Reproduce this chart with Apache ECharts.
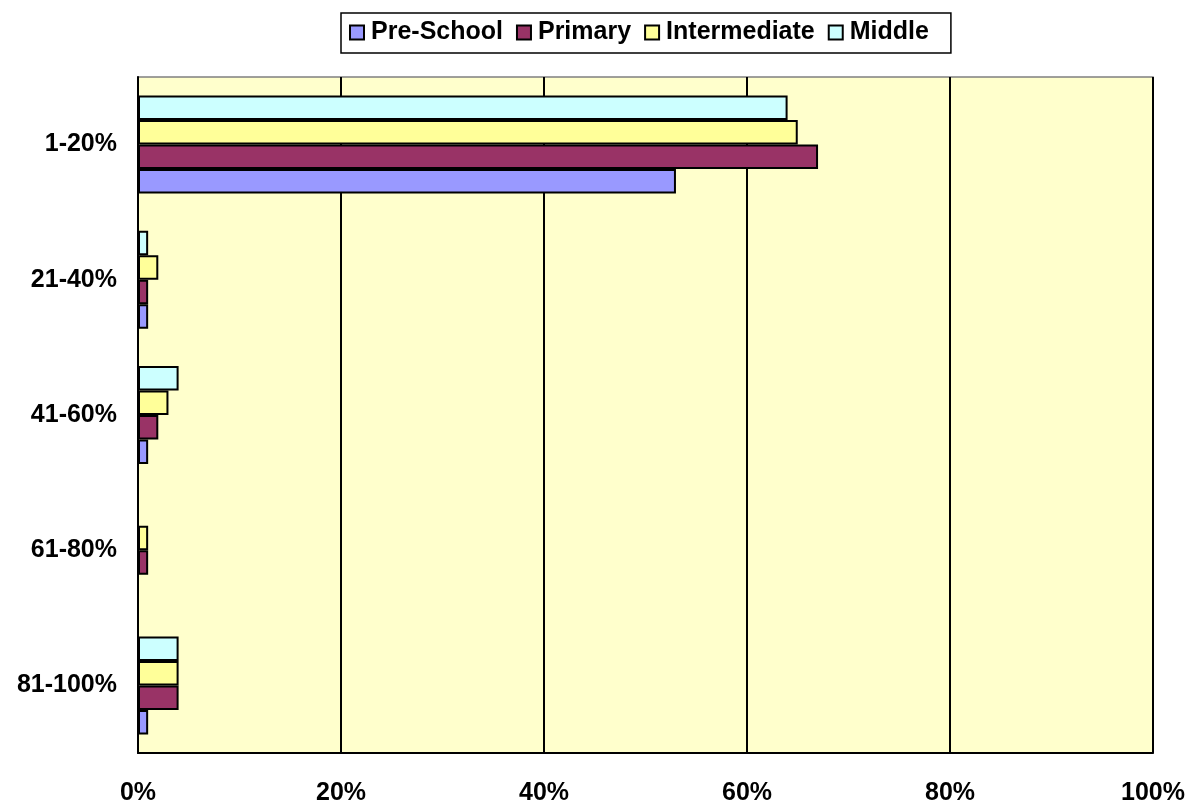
<!DOCTYPE html>
<html><head><meta charset="utf-8">
<script src="https://cdn.jsdelivr.net/npm/echarts@6/dist/echarts.min.js"></script>
<style>html,body{margin:0;padding:0;background:#fff}#c{width:1194px;height:808px}</style>
</head><body><div id="c"></div>
<script>
const categories = ['1-20%', '21-40%', '41-60%', '61-80%', '81-100%'];
const seriesNames = ['Pre-School', 'Primary', 'Intermediate', 'Middle'];
const preSchool = [53, 1, 1, 0, 1];
const primary = [67, 1, 2, 1, 4];
const intermediate = [65, 2, 3, 1, 4];
const middle = [64, 1, 4, 0, 4];
const xTicks = [0, 20, 40, 60, 80, 100];
const colors = ['#9999FF', '#993366', '#FFFF99', '#CCFFFF'];
const values = [preSchool, primary, intermediate, middle];

const font = 'Liberation Sans, Arial, sans-serif';
const chart = echarts.init(document.getElementById('c'));
// draw order: Middle on top of each band, Pre-School at bottom
const order = [3, 2, 1, 0];
chart.setOption({
  animation: false,
  backgroundColor: '#fff',
  legend: {
    data: seriesNames,
    top: 13, left: 341,
    padding: [7, 22, 8, 8],
    borderColor: '#000', borderWidth: 1.5,
    itemWidth: 14, itemHeight: 14, itemGap: 13,
    icon: 'rect',
    textStyle: { fontFamily: font, fontWeight: 'bold', fontSize: 25, color: '#000', padding: [0,0,0,2] },
    itemStyle: { borderColor: '#000', borderWidth: 2 }
  },
  grid: { left: 138, right: 41, top: 77, bottom: 55, containLabel: false,
    show: true, backgroundColor: '#FFFFCC', borderColor: '#808080', borderWidth: 1.5 },
  xAxis: {
    type: 'value', min: 0, max: 100, interval: 20,
    axisLine: { show: true, lineStyle: { color: '#000', width: 2 } },
    axisTick: { show: false },
    splitLine: { show: true, lineStyle: { color: '#000', width: 2 } },
    axisLabel: { formatter: v => xTicks.includes(v) ? v + '%' : '', fontFamily: font, fontWeight: 'bold', fontSize: 25, color: '#000', margin: 28 }
  },
  yAxis: {
    type: 'category', data: categories, inverse: true,
    axisLine: { show: true, lineStyle: { color: '#000', width: 2 } },
    axisTick: { show: false },
    axisLabel: { fontFamily: font, fontWeight: 'bold', fontSize: 25, color: '#000', margin: 21, padding: [4, 0, 0, 0] }
  },
  series: order.map(i => ({
    name: seriesNames[i], type: 'bar', data: values[i],
    barWidth: 24.5, barGap: '0%',
    itemStyle: { color: colors[i], borderColor: '#000', borderWidth: 2 }
  }))
});
</script></body></html>
